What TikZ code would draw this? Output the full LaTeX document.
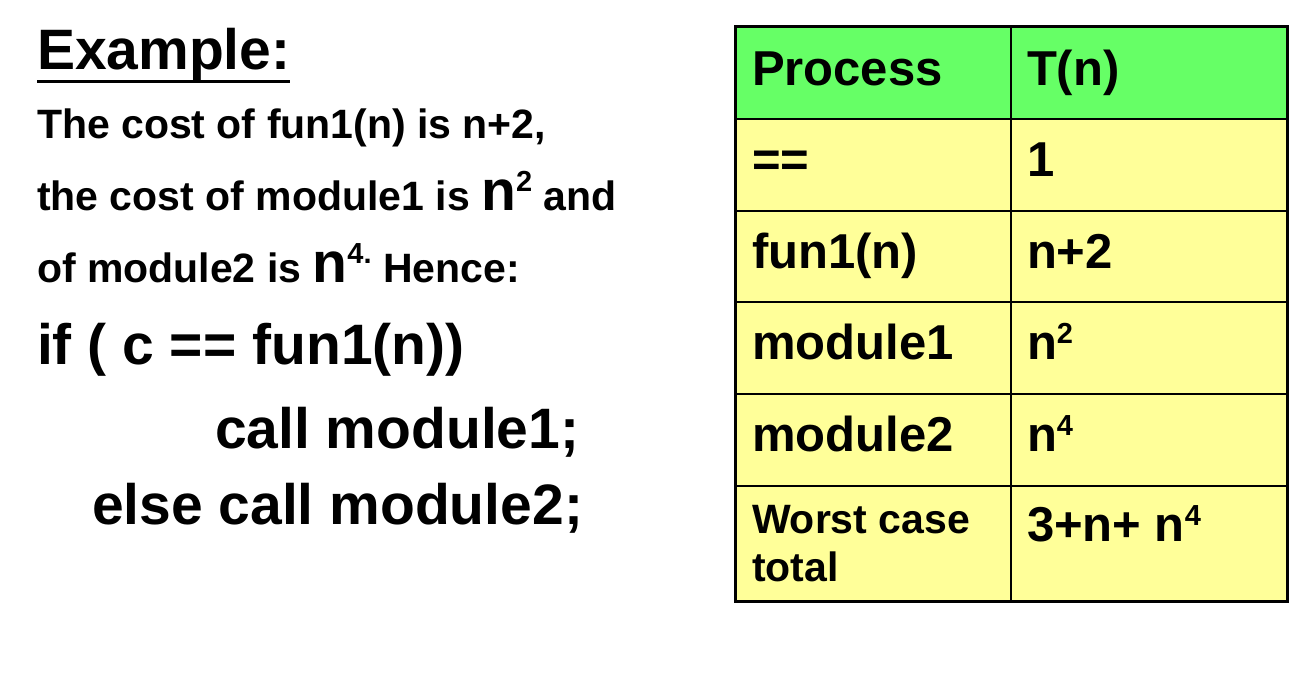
\documentclass[tikz,border=0pt]{standalone}
\usepackage{fontspec}
\setmainfont{Liberation Sans}
\definecolor{headgreen}{HTML}{66FF66}
\definecolor{cellyellow}{HTML}{FFFF99}
\newcommand{\raisedsup}[2][16pt]{\raisebox{#1}{\fontsize{29}{29}\selectfont #2}}
\begin{document}
\begin{tikzpicture}[x=1pt, y=-1pt,
		every node/.style={inner sep=0pt, outer sep=0pt, anchor=base west},
		body/.style={font=\fontsize{41}{49}\selectfont\bfseries},
		code/.style={font=\fontsize{57}{68}\selectfont\bfseries},
		cell/.style={font=\fontsize{49}{58}\selectfont\bfseries},
		l_in/.style={line width=2pt},
		l_out/.style={line width=3pt}]
		\useasboundingbox (0,0) rectangle (1291,685);
		% left column
		\node[code] (title) at (37,70) {Example:};
		\draw[l_out] ([yshift=-12pt]title.base west) -- ([yshift=-12pt]title.base east);
		\node[body] (line1) at (37,139) {The cost of fun1(n) is n+2,};
		\node[body] (line2) at (37,210) {the cost of module1 is {\fontsize{57}{68}\selectfont n}\raisedsup[19pt]{2} and};
		\node[body] (line3) at (37,282) {of module2 is {\fontsize{57}{68}\selectfont n}\raisedsup[19pt]{4.} Hence:};
		\node[code] (cond) at (37,364) {if ( c == fun1(n))};
		\node[code] (then) at (215,448) {call module1;};
		\node[code] (else) at (92,524) {else call module2;};
		
		% table
		\fill[headgreen] (735,27) rectangle (1287,119);
		\fill[cellyellow] (735,119) rectangle (1287,601);
		\foreach \yr in {119,211,302,394,486} {
			\draw[l_in] (735,\yr) -- (1287,\yr);
		};
		\draw[l_in] (1011,27) -- (1011,601);
		\draw[l_out] (735,27) rectangle (1287,601);
		
		\foreach \name/\cost [count=\r from 0] in {Process/T(n), ==/1, fun1(n)/n+2, module1/n\raisedsup{2}, module2/n\raisedsup{4}} {
			\node[cell] (proc\r) at (752,85+91.5*\r) {\name};
			\node[cell] (cost\r) at (1027,85+91.5*\r) {\cost};
		};
		\node[body] (proc5) at (752,533) {Worst case};
		\node[body] (proc5b) at ([yshift=-48pt]proc5.base west) {total};
		\node[cell] (cost5) at (1027,541) {3+n+ n\raisedsup{4}};
		%		\draw[dotted, gray] (0,0) grid[step=100] (1291,685);
		\end{tikzpicture}
\end{document}
